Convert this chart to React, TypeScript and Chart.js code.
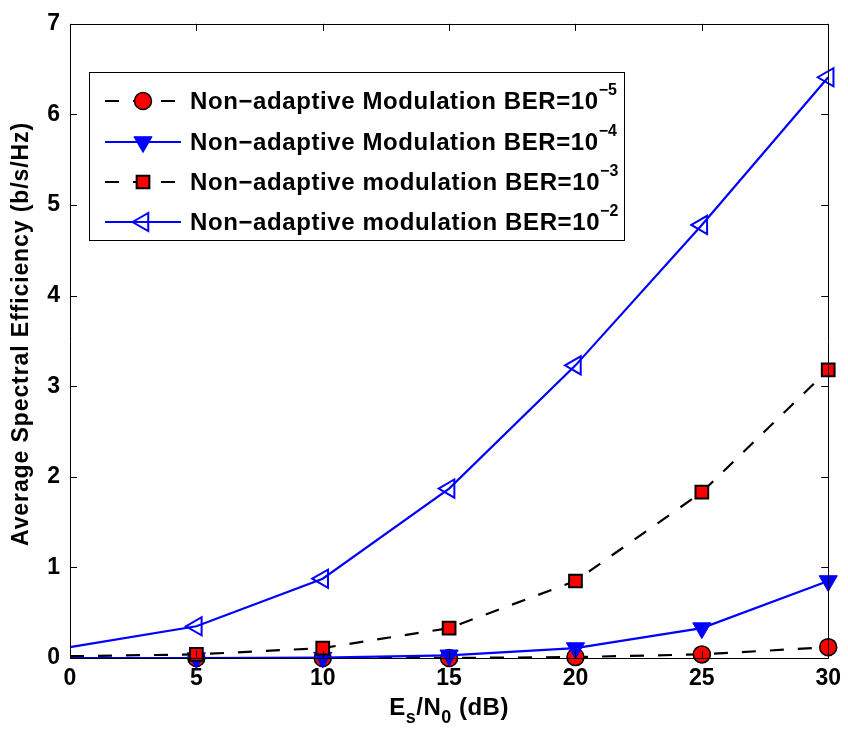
import React, { useEffect, useRef } from 'react';
import { Chart, registerables } from 'chart.js';

Chart.register(...registerables);

// ---- data ----
const snrDb = [0, 5, 10, 15, 20, 25, 30];
const ber1e5 = [0.0, 0.0, 0.0, 0.0, 0.01, 0.04, 0.12];
const ber1e4 = [0.0, 0.0, 0.005, 0.03, 0.11, 0.33, 0.85];
const ber1e3 = [0.02, 0.04, 0.11, 0.33, 0.85, 1.83, 3.18];
const ber1e2 = [0.12, 0.35, 0.875, 1.87, 3.23, 4.78, 6.41];

const legendLabels = [
  'Non\u2212adaptive Modulation BER=10',
  'Non\u2212adaptive Modulation BER=10',
  'Non\u2212adaptive modulation BER=10',
  'Non\u2212adaptive modulation BER=10',
];
const legendExponents = ['\u22125', '\u22124', '\u22123', '\u22122'];
const yTitle = 'Average Spectral Efficiency (b/s/Hz)';
const xTitleParts: [string, boolean][] = [
  ['E', false],
  ['s', true],
  ['/N', false],
  ['0', true],
  [' (dB)', false],
];

const FONT = '"Liberation Sans", Arial, Helvetica, sans-serif';
const BLUE = '#0000ff';
const RED = '#ff0000';

export default function App() {
  const ref = useRef<HTMLCanvasElement>(null);

  useEffect(() => {
    const canvas = ref.current;
    if (!canvas) return;
    const ctx = canvas.getContext('2d');
    if (!ctx) return;

    const hidden = (n: number) => snrDb.map((_, i) => (i === 0 ? 0 : n));
    const pts = (ys: number[]) => snrDb.map((x, i) => ({ x, y: ys[i] }));

    const datasets: any[] = [
      {
        label: 'BER 1e-5',
        data: pts(ber1e5),
        borderColor: '#000000',
        borderWidth: 2.2,
        borderDash: [14, 14],
        borderCapStyle: 'butt',
        pointStyle: 'circle',
        pointRadius: hidden(8.5),
        pointBackgroundColor: RED,
        pointBorderColor: '#000000',
        pointBorderWidth: 1.5,
        order: 3,
      },
      {
        label: 'BER 1e-4',
        data: pts(ber1e4),
        borderColor: BLUE,
        borderWidth: 2.2,
        pointStyle: 'triangle',
        pointRotation: 180,
        pointRadius: hidden(10.5),
        pointBackgroundColor: BLUE,
        pointBorderColor: BLUE,
        pointBorderWidth: 1,
        order: 2,
      },
      {
        label: 'BER 1e-3',
        data: pts(ber1e3),
        borderColor: '#000000',
        borderWidth: 2.2,
        borderDash: [14, 14],
        borderCapStyle: 'butt',
        pointStyle: 'rect',
        pointRadius: hidden(9),
        pointBackgroundColor: RED,
        pointBorderColor: '#000000',
        pointBorderWidth: 2,
        order: 1,
      },
      {
        label: 'BER 1e-2',
        data: pts(ber1e2),
        borderColor: BLUE,
        borderWidth: 2.2,
        pointStyle: 'triangle',
        pointRotation: -90,
        pointRadius: hidden(10.5),
        pointBackgroundColor: 'rgba(0,0,0,0)',
        pointBorderColor: BLUE,
        pointBorderWidth: 2,
        order: 0,
      },
    ];

    function drawMarker(c: CanvasRenderingContext2D, style: string, r: number, rot: number, x: number, y: number) {
      c.beginPath();
      if (style === 'circle') {
        c.arc(x, y, r, 0, Math.PI * 2);
      } else if (style === 'rect') {
        const s = Math.SQRT1_2 * r;
        c.rect(x - s, y - s, 2 * s, 2 * s);
      } else if (style === 'triangle') {
        let rad = (rot * Math.PI) / 180;
        c.moveTo(x + Math.sin(rad) * r, y - Math.cos(rad) * r);
        rad += (2 * Math.PI) / 3;
        c.lineTo(x + Math.sin(rad) * r, y - Math.cos(rad) * r);
        rad += (2 * Math.PI) / 3;
        c.lineTo(x + Math.sin(rad) * r, y - Math.cos(rad) * r);
        c.closePath();
      }
      c.fill();
      c.stroke();
    }

    // frame + inward ticks like MATLAB
    const framePlugin = {
      id: 'frame',
      afterDatasetsDraw(chart: any) {
        const c = chart.ctx;
        const { left, right, top, bottom } = chart.chartArea;
        const xs = chart.scales.x;
        const ys = chart.scales.y;
        c.save();
        c.strokeStyle = '#000';
        c.lineWidth = 1;
        c.beginPath();
        c.rect(Math.round(left) + 0.5, Math.round(top) + 0.5, Math.round(right - left), Math.round(bottom - top));
        c.stroke();
        const tl = 7;
        c.beginPath();
        xs.ticks.forEach((t: any) => {
          const px = Math.round(xs.getPixelForValue(t.value)) + 0.5;
          c.moveTo(px, bottom);
          c.lineTo(px, bottom - tl);
          c.moveTo(px, top);
          c.lineTo(px, top + tl);
        });
        ys.ticks.forEach((t: any) => {
          const py = Math.round(ys.getPixelForValue(t.value)) + 0.5;
          c.moveTo(left, py);
          c.lineTo(left + tl, py);
          c.moveTo(right, py);
          c.lineTo(right - tl, py);
        });
        c.stroke();
        c.restore();
      },
    };

    const titlesPlugin = {
      id: 'titles',
      afterDraw(chart: any) {
        const c = chart.ctx;
        const { left, right } = chart.chartArea;
        c.save();
        c.fillStyle = '#000';
        // y title
        c.font = `bold 23px ${FONT}`;
        (c as any).letterSpacing = '0.9px';
        c.textAlign = 'center';
        c.textBaseline = 'middle';
        c.translate(22, 334);
        c.rotate(-Math.PI / 2);
        c.fillText(yTitle, 0, 0);
        c.restore();

        // x title with subscripts
        c.save();
        c.fillStyle = '#000';
        (c as any).letterSpacing = '0.5px';
        c.textBaseline = 'alphabetic';
        c.textAlign = 'left';
        const big = `bold 24px ${FONT}`;
        const small = `bold 18px ${FONT}`;
        let total = 0;
        xTitleParts.forEach(([t, sub]) => {
          c.font = sub ? small : big;
          total += c.measureText(t).width;
        });
        let x = (left + right) / 2 - total / 2;
        const base = 715;
        xTitleParts.forEach(([t, sub]) => {
          c.font = sub ? small : big;
          c.fillText(t, x, sub ? base + 8 : base);
          x += c.measureText(t).width;
        });
        c.restore();

        // legend
        c.save();
        const bx = 89.5, by = 72.5, bw = 535, bh = 168;
        c.fillStyle = '#fff';
        c.fillRect(bx, by, bw, bh);
        c.strokeStyle = '#000';
        c.lineWidth = 1;
        c.strokeRect(bx, by, bw, bh);
        const rowY = [101, 142, 182, 222];
        datasets.forEach((ds, i) => {
          const y = rowY[i];
          c.save();
          c.strokeStyle = ds.borderColor;
          c.lineWidth = ds.borderWidth;
          c.lineCap = 'butt';
          c.setLineDash(ds.borderDash || []);
          c.beginPath();
          c.moveTo(105, y);
          c.lineTo(181, y);
          c.stroke();
          c.restore();
          c.save();
          c.fillStyle = ds.pointBackgroundColor;
          c.strokeStyle = ds.pointBorderColor;
          c.lineWidth = ds.pointBorderWidth;
          drawMarker(c, ds.pointStyle, ds.pointRadius[1], ds.pointRotation || 0, 143, y);
          c.restore();
          c.save();
          c.fillStyle = '#000';
          (c as any).letterSpacing = '0.6px';
          c.font = `bold 24px ${FONT}`;
          c.textAlign = 'left';
          c.textBaseline = 'middle';
          c.fillText(legendLabels[i], 190, y + 1);
          const w = c.measureText(legendLabels[i]).width;
          c.font = `bold 16px ${FONT}`;
          (c as any).letterSpacing = '0px';
          c.fillText(legendExponents[i], 190 + w, y - 10);
          c.restore();
        });
        c.restore();
      },
    };

    const chart = new Chart(ctx, {
      type: 'line',
      data: { datasets: datasets.map((d) => ({ ...d, clip: false, tension: 0, fill: false })) },
      options: {
        responsive: false,
        animation: false,
        devicePixelRatio: 1,
        layout: { padding: { top: 16, right: 15, left: 0, bottom: 0 } },
        plugins: { legend: { display: false }, tooltip: { enabled: false } },
        scales: {
          x: {
            type: 'linear',
            min: 0,
            max: 30,
            ticks: {
              stepSize: 5,
              color: '#000',
              padding: 7,
              font: { family: FONT, size: 23, weight: 'bold' },
            },
            grid: { display: false, drawTicks: false },
            border: { display: false },
            afterFit: (s: any) => {
              s.height = 75;
            },
          },
          y: {
            type: 'linear',
            min: 0,
            max: 7,
            ticks: {
              stepSize: 1,
              color: '#000',
              padding: 10,
              font: { family: FONT, size: 23, weight: 'bold' },
            },
            grid: { display: false, drawTicks: false },
            border: { display: false },
            afterFit: (s: any) => {
              s.width = 70;
            },
          },
        },
      } as any,
      plugins: [framePlugin, titlesPlugin],
    });
    return () => chart.destroy();
  }, []);

  return (
    <div style={{ position: 'absolute', left: 0, top: 0, width: 848, height: 733, background: '#fff' }}>
      <canvas ref={ref} width={848} height={733} style={{ display: 'block', width: 848, height: 733 }} />
    </div>
  );
}
